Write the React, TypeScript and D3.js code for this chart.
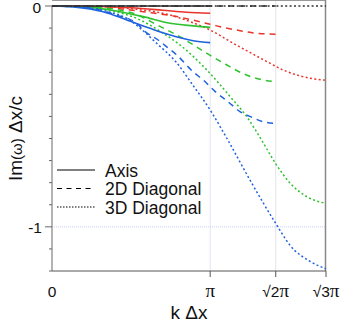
import React from 'react';
import * as d3 from 'd3';

// k in units of pi, Im(w) dx/c
const blackAxis = [[0, 0], [1, 0]];
const black2D = [[0, 0], [Math.SQRT2, 0]];
const black3D = [[0, 0], [Math.sqrt(3), 0]];

const redAxis = [[0, 0], [0.25, -0.001], [0.5, -0.008], [0.7, -0.019], [0.85, -0.028], [1, -0.033]];
const red2D = [[0, 0], [0.25, -0.002], [0.4, -0.01], [0.576, -0.026], [0.79, -0.048], [0.956, -0.075], [1.04, -0.09], [1.19, -0.112], [1.264, -0.121], [1.414, -0.128]];
const red3D = [[0, 0], [0.25, -0.002], [0.5, -0.012], [0.747, -0.041], [0.87, -0.07], [1.0, -0.109], [1.146, -0.169], [1.253, -0.211], [1.359, -0.252], [1.462, -0.29], [1.57, -0.317], [1.715, -0.335], [1.732, -0.336]];

const greenAxis = [[0, 0], [0.2, -0.004], [0.367, -0.018], [0.576, -0.048], [0.747, -0.078], [0.892, -0.09], [1, -0.097]];
const green2D = [[0, 0], [0.25, -0.005], [0.513, -0.033], [0.665, -0.086], [0.81, -0.14], [0.98, -0.215], [1.1, -0.265], [1.19, -0.3], [1.264, -0.322], [1.414, -0.343]];
const green3D = [[0, 0], [0.25, -0.006], [0.4, -0.025], [0.557, -0.063], [0.684, -0.115], [0.81, -0.177], [0.979, -0.29], [1.127, -0.411], [1.232, -0.502], [1.337, -0.622], [1.413, -0.713], [1.506, -0.803], [1.612, -0.864], [1.732, -0.894]];

const blueAxis = [[0, 0], [0.15, -0.005], [0.323, -0.026], [0.473, -0.063], [0.62, -0.101], [0.747, -0.131], [0.892, -0.157], [1, -0.166]];
const blue2D = [[0, 0], [0.25, -0.01], [0.4, -0.04], [0.536, -0.079], [0.589, -0.116], [0.671, -0.154], [0.734, -0.19], [0.789, -0.222], [0.892, -0.298], [0.956, -0.335], [1.032, -0.388], [1.114, -0.434], [1.19, -0.479], [1.264, -0.504], [1.335, -0.524], [1.414, -0.532]];
const blue3D = [[0, 0], [0.2, -0.006], [0.35, -0.025], [0.473, -0.056], [0.568, -0.107], [0.663, -0.17], [0.78, -0.25], [0.892, -0.36], [1.0, -0.471], [1.106, -0.6], [1.253, -0.79], [1.413, -0.983], [1.506, -1.085], [1.633, -1.157], [1.732, -1.19]];

const xTicks = [0, 1, Math.SQRT2, Math.sqrt(3)];
const xTickLabels = ['0', 'π', '√2π', '√3π'];
const legendLabels = ['Axis', '2D Diagonal', '3D Diagonal'];

const width = 354;
const height = 323;
const left = 52, right = 326, top = 6, bottom = 271;

const dashes = ['none', '6 5', '2 2.4'];

export default function App() {
  const x = d3.scaleLinear().domain([0, Math.sqrt(3)]).range([left, right]);
  const y = d3.scaleLinear().domain([0, -1.2]).range([top, bottom]);
  const line = d3.line<number[]>()
    .x((d) => x(d[0]))
    .y((d) => y(d[1]))
    .curve(d3.curveMonotoneX);

  const series = [
    { color: '#e8352c', sets: [redAxis, red2D, red3D] },
    { color: '#2fc22f', sets: [greenAxis, green2D, green3D] },
    { color: '#2062de', sets: [blueAxis, blue2D, blue3D] },
    { color: '#333', sets: [blackAxis, black2D, black3D] },
  ];

  const yTicks = d3.range(0, 13).map((i) => -i / 10);
  const font = "'Liberation Sans', Arial, sans-serif";

  return (
    <svg width={width} height={height} style={{ position: 'absolute', left: 0, top: 0, background: '#fff' }}>
      {/* grid */}
      {[1, Math.SQRT2].map((t) => (
        <line key={t} x1={x(t)} x2={x(t)} y1={0} y2={bottom} stroke="#e3e5ee" strokeWidth={1} />
      ))}
      <line x1={left} x2={right} y1={y(-1)} y2={y(-1)} stroke="#c9d0f2" strokeWidth={1} strokeDasharray="1 1" />

      {/* frame */}
      <line x1={left} x2={right - 0.5} y1={0.5} y2={0.5} stroke="#999" strokeWidth={1} />
      <line x1={right - 0.5} x2={right - 0.5} y1={0} y2={bottom} stroke="#888" strokeWidth={1.5} />
      <line x1={left} x2={left} y1={top} y2={bottom} stroke="#a0a0a0" strokeWidth={1.6} />
      <line x1={left} x2={right} y1={bottom} y2={bottom} stroke="#555" strokeWidth={1} />

      {yTicks.map((t, i) => (
        <line key={i} x1={left - (i % 10 === 0 ? 7 : 3)} x2={left} y1={y(t)} y2={y(t)} stroke="#666" strokeWidth={1} />
      ))}
      {xTicks.slice(1).map((t) => (
        <line key={t} x1={x(t)} x2={x(t)} y1={bottom} y2={bottom + 6} stroke="#555" strokeWidth={1} />
      ))}

      {/* curves */}
      {series.map((s) =>
        s.sets.map((pts, j) => (
          <path
            key={s.color + j}
            d={line(pts) || ''}
            fill="none"
            stroke={s.color}
            strokeWidth={j === 0 ? 1.6 : 1.5}
            strokeDasharray={dashes[j]}
          />
        ))
      )}

      {/* tick labels */}
      <g fontFamily={font} fontSize={15.5} fill="#111">
        <text x={41} y={y(0) + 7} textAnchor="end">0</text>
        <text x={42} y={y(-1) + 6} textAnchor="end">-1</text>
        {xTicks.map((t, i) => {
          const lbl = xTickLabels[i];
          const head = lbl.replace('π', '');
          return (
            <text key={t} x={x(t)} y={297} textAnchor="middle">
              {head}
              {lbl.includes('π') && <tspan fontFamily="'Liberation Serif', serif" fontSize={19}>π</tspan>}
            </text>
          );
        })}
      </g>

      {/* axis titles */}
      <text x={189} y={319} textAnchor="middle" fontFamily={font} fontSize={19} fill="#111">k Δx</text>
      <text
        transform={`translate(22, ${(top + bottom) / 2}) rotate(-90)`}
        textAnchor="middle"
        fontFamily={font}
        fontSize={19}
        fill="#111"
      >
        Im<tspan fontSize={15}>(ω)</tspan> Δx/c
      </text>

      {/* legend */}
      {legendLabels.map((lbl, i) => (
        <g key={lbl} transform={`translate(0, ${170 + i * 18.5})`}>
          <line x1={57} x2={95} y1={0} y2={0} stroke="#000" strokeWidth={1} strokeDasharray={i === 0 ? 'none' : i === 1 ? '5 4.5' : '1.5 1.5'} />
          <text x={105} y={6.5} fontFamily={font} fontSize={17.5} fill="#111">{lbl}</text>
        </g>
      ))}
    </svg>
  );
}
